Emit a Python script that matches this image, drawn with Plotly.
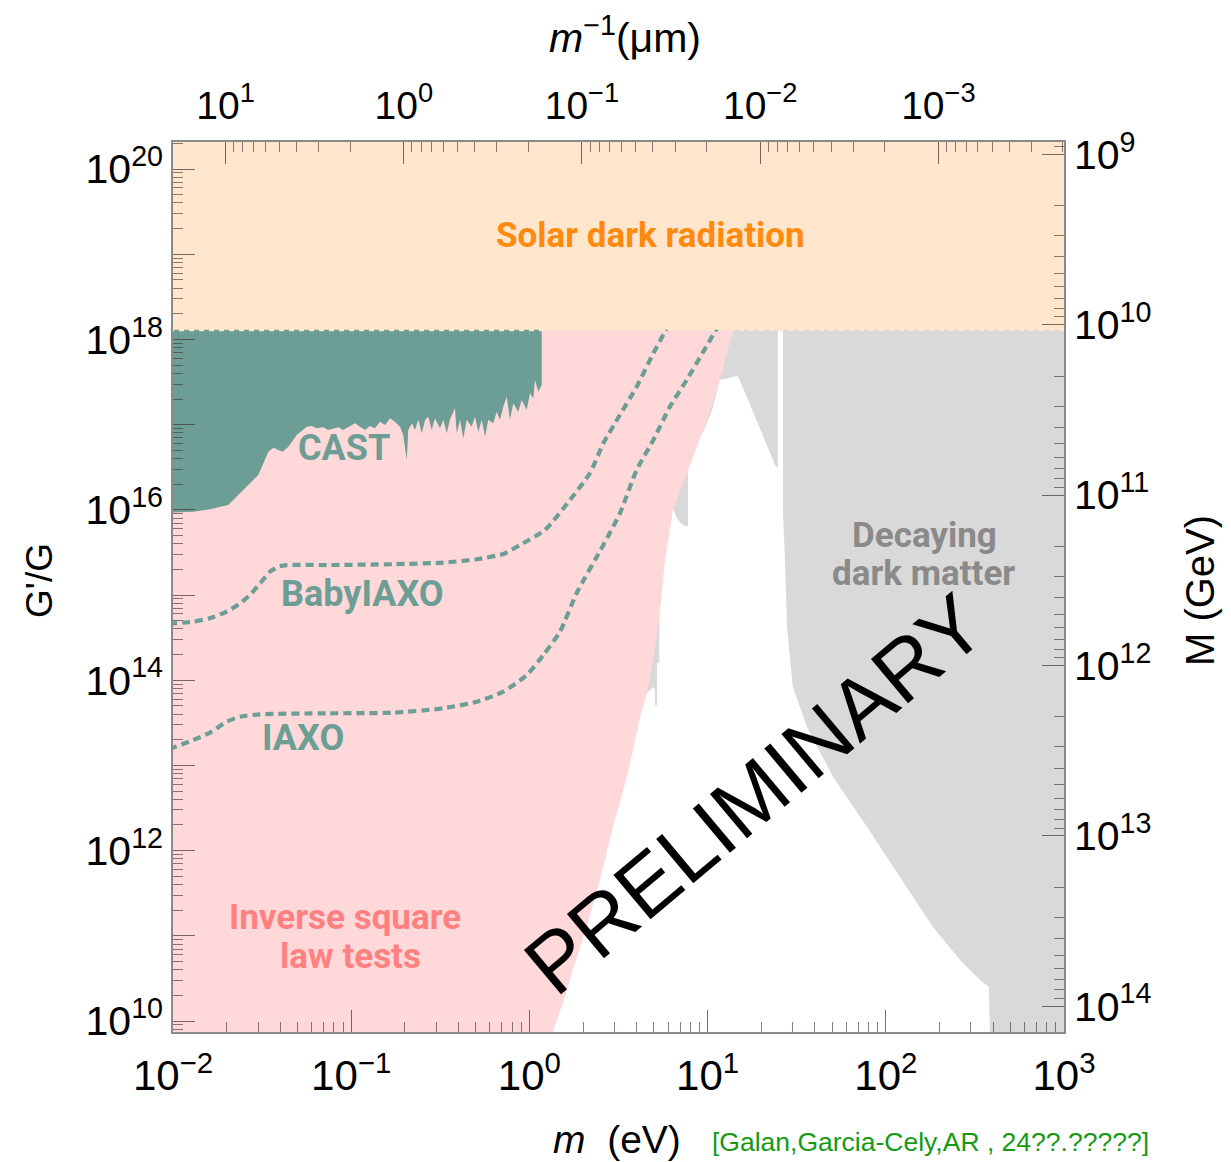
import math
import plotly.graph_objects as go

# Unit conversions for the secondary axes
HBARC_EV_UM = 0.1973      # eV * um  -> 1/m in um
MPL_GEV = 1.22e19         # G'/G = (M_pl / M)^2

M_MIN, M_MAX = 1e-2, 1e3
LOG_G_MIN, LOG_G_MAX = 9.871, 20.318

# Solar dark radiation bound on G'/G
SOLAR_G = 1.3e18

# Inverse-square-law tests: excluded region to the left of this boundary
ISL_M = [1.31, 1.36, 1.43, 1.63, 1.73, 2.10, 2.49, 2.94, 3.53, 4.18, 4.57, 4.94,
         5.41, 5.77, 6.39, 7.66, 8.73, 9.93, 11.7, 13.9, 15.5]
ISL_G = [6.0e9, 7.6e9, 1.03e10, 2.31e10, 3.66e10, 1.27e11, 4.52e11, 1.90e12,
         7.31e12, 3.71e13, 7.08e13, 1.73e14, 6.68e14, 2.58e15, 9.97e15, 2.71e16,
         5.47e16, 1.13e17, 3.35e17, 1.29e18, 3e18]

# CAST lower edge
CAST_M = [0.0095, 0.0130, 0.0161, 0.0204, 0.0248, 0.0301, 0.0343, 0.0366, 0.0390,
          0.0413, 0.0444, 0.0495, 0.0563, 0.0600, 0.0640, 0.0697, 0.0744, 0.0794,
          0.0847, 0.0903, 0.0963, 0.105, 0.112, 0.120, 0.127, 0.136, 0.145, 0.155,
          0.165, 0.176, 0.188, 0.196, 0.205, 0.209, 0.219, 0.228, 0.238, 0.249,
          0.260, 0.271, 0.283, 0.295, 0.315, 0.329, 0.344, 0.358, 0.382, 0.391,
          0.408, 0.426, 0.445, 0.474, 0.495, 0.517, 0.540, 0.564, 0.588, 0.627,
          0.655, 0.684, 0.714, 0.746, 0.778, 0.812, 0.866, 0.905, 0.966, 1.008,
          1.052, 1.075, 1.122, 1.172]
CAST_G = [9.27e15, 9.52e15, 1.02e16, 1.14e16, 1.71e16, 2.57e16, 4.82e16, 5.37e16,
          5.05e16, 4.82e16, 5.52e16, 7.57e16, 9.47e16, 9.66e16, 9.07e16, 9.31e16,
          8.66e16, 9.07e16, 9.31e16, 8.66e16, 9.31e16, 1.04e17, 9.47e16, 8.66e16,
          9.66e16, 9.07e16, 1.08e17, 9.92e16, 1.19e17, 1.08e17, 9.47e16, 7.57e16,
          3.85e16, 8.66e16, 1.04e17, 8.66e16, 1.14e17, 7.93e16, 1.14e17, 1.24e17,
          8.66e16, 1.19e17, 9.07e16, 1.14e17, 7.93e16, 1.14e17, 1.56e17, 7.93e16,
          1.14e17, 6.92e16, 1.14e17, 9.47e16, 1.24e17, 8.28e16, 1.14e17, 7.23e16,
          1.14e17, 1.04e17, 1.42e17, 1.14e17, 1.63e17, 2.13e17, 1.14e17, 1.78e17,
          1.42e17, 1.95e17, 1.49e17, 2.34e17, 2.04e17, 3.35e17, 2.44e17, 2.92e17]

# Helioscope projections
BABYIAXO_M = [0.0095, 0.0130, 0.0161, 0.0200, 0.0238, 0.0270, 0.0308, 0.0350,
              0.0390, 0.0435, 0.0729, 0.172, 0.329, 0.506, 0.714, 0.886, 1.224,
              1.69, 2.19, 2.60, 3.22, 4.00, 4.96, 5.77, 6.1]
BABYIAXO_G = [4.6e14, 4.87e14, 5.34e14, 6.38e14, 8.01e14, 1.00e15, 1.37e15,
              1.88e15, 2.15e15, 2.25e15, 2.25e15, 2.30e15, 2.40e15, 2.63e15,
              3.04e15, 3.87e15, 5.81e15, 1.31e16, 2.71e16, 6.05e16, 1.30e17,
              2.79e17, 6.89e17, 1.24e18, 1.6e18]
IAXO_M = [0.0095, 0.0130, 0.0161, 0.0200, 0.0238, 0.0308, 0.0729, 0.172, 0.329,
          0.506, 0.714, 0.966, 1.197, 1.485, 1.84, 2.60, 3.22, 4.00, 4.96, 6.15,
          7.63, 9.46, 11.0, 11.8]
IAXO_G = [1.55e13, 1.99e13, 2.42e13, 3.26e13, 3.73e13, 3.98e13, 4.09e13, 4.16e13,
          4.69e13, 5.60e13, 7.34e13, 1.15e14, 1.98e14, 3.72e14, 1.05e15, 3.87e15,
          9.12e15, 2.94e16, 6.61e16, 1.63e17, 3.35e17, 7.19e17, 1.24e18, 1.6e18]

# Decaying dark matter and related bounds (closed outlines)
DDM_M = [26.5, 26.5, 27.2, 27.9, 30.1, 36.1, 50.6, 78.5, 120, 184, 261, 338, 379,
         385, 2000, 2000]
DDM_G = [2e18, 8.7e15, 2.58e15, 4.22e14, 8.34e13, 2.83e13, 7.31e12, 1.90e12,
         4.91e11, 1.27e11, 5.20e10, 3.03e10, 2.51e10, 6.0e9, 6.0e9, 2e18]
GRAY_A_M = [8.50, 24.8, 24.8, 24.2, 14.8, 11.7, 10.6, 9.42, 8.50]
GRAY_A_G = [2e18, 2e18, 3.19e16, 3.19e16, 3.73e17, 3.35e17, 1.49e17, 7.99e16, 7.99e16]
GRAY_B_M = [6.15, 7.76, 7.76, 7.47, 7.16, 6.71, 6.39, 5.77]
GRAY_B_G = [2.94e16, 2.94e16, 6.47e15, 6.47e15, 6.82e15, 8.03e15, 1.05e16, 1.05e16]
GRAY_C_M = [4.18, 5.36, 5.36, 5.20, 5.20, 5.07, 5.07, 4.94, 4.57, 4.40, 4.18]
GRAY_C_G = [7.64e14, 7.64e14, 1.60e14, 1.60e14, 5.13e13, 5.13e13, 7.69e13, 8.34e13,
            7.08e13, 6.19e13, 6.19e13]

PEACH = "#ffe6cc"
PINK = "#ffd8d9"
TEAL = "#6c9e95"
GRAY = "#d9d9d9"
TICK_FONT = "Liberation Sans"
LABEL_FONT = "Roboto"

fig = go.Figure()


def region(xs, ys, color):
    fig.add_trace(go.Scatter(x=xs, y=ys, mode="lines", fill="toself",
                             fillcolor=color, line=dict(width=0, color=color),
                             hoverinfo="skip", showlegend=False))


for xs, ys in [(DDM_M, DDM_G), (GRAY_A_M, GRAY_A_G), (GRAY_B_M, GRAY_B_G),
               (GRAY_C_M, GRAY_C_G)]:
    region(xs, ys, GRAY)

# Inverse square law region
region([0.0095] + ISL_M + [0.0095], [ISL_G[0]] + ISL_G + [ISL_G[-1]], PINK)

# CAST
region(CAST_M + [CAST_M[-1], CAST_M[0]], CAST_G + [2e18, 2e18], TEAL)

for xs, ys in [(BABYIAXO_M, BABYIAXO_G), (IAXO_M, IAXO_G)]:
    fig.add_trace(go.Scatter(x=xs, y=ys, mode="lines",
                             line=dict(color=TEAL, width=4.2, dash="8px,5px",
                                       shape="spline", smoothing=0.6),
                             hoverinfo="skip", showlegend=False))

# Solar dark radiation band
region([0.0095, 2000, 2000, 0.0095], [SOLAR_G, SOLAR_G, 1e21, 1e21], PEACH)
fig.add_trace(go.Scatter(x=[0.0095, 2000], y=[SOLAR_G, SOLAR_G], mode="lines",
                         line=dict(color=PEACH, width=3, dash="5px,5px"),
                         hoverinfo="skip", showlegend=False))

# Invisible trace that anchors the secondary axes
fig.add_trace(go.Scatter(x=[1.0], y=[1e11], xaxis="x2", yaxis="y2", mode="markers",
                         marker=dict(opacity=0), hoverinfo="skip", showlegend=False))


def minor_vals(lo, hi):
    return [k * 10.0 ** n for n in range(lo, hi + 1) for k in range(2, 10)]


def sup_labels(exps):
    return [f"10<sup>{str(e).replace('-', chr(0x2212))}</sup>" for e in exps]


tick_common = dict(ticks="inside", ticklen=22, tickwidth=1.2,
                   tickcolor="rgba(70,60,55,0.75)", showgrid=False, zeroline=False,
                   showline=True, linecolor="#8a8a8a", linewidth=1.5)
minor_common = dict(ticks="inside", ticklen=10, tickwidth=1.1,
                    tickcolor="rgba(70,60,55,0.65)", showgrid=False)

g_major = list(range(10, 21))
g_text = [sup_labels([e])[0] if e % 2 == 0 else "" for e in g_major]

x_exps = list(range(-2, 4))
x2_exps = [1, 0, -1, -2, -3]
y2_exps = list(range(9, 15))

log_inv_left = math.log10(HBARC_EV_UM / M_MIN)
log_inv_right = math.log10(HBARC_EV_UM / M_MAX)
log_M_bot = (2 * math.log10(MPL_GEV) - LOG_G_MIN) / 2
log_M_top = (2 * math.log10(MPL_GEV) - LOG_G_MAX) / 2

fig.update_layout(
    width=1231, height=1162,
    margin=dict(l=173, r=167, t=142, b=130),
    plot_bgcolor="white", paper_bgcolor="white",
    xaxis=dict(type="log", range=[-2, 3], tickmode="array",
               tickvals=[10.0 ** e for e in x_exps], ticktext=sup_labels(x_exps),
               tickfont=dict(family=TICK_FONT, size=42, color="black"),
               ticklabelstandoff=6,
               minor=dict(tickvals=minor_vals(-3, 3), **minor_common),
               **tick_common),
    xaxis2=dict(type="log", overlaying="x", side="top",
                range=[log_inv_left, log_inv_right], tickmode="array",
                tickvals=[10.0 ** e for e in x2_exps], ticktext=sup_labels(x2_exps),
                tickfont=dict(family=TICK_FONT, size=39, color="black"),
                ticklabelstandoff=6,
                minor=dict(tickvals=minor_vals(-5, 2), **minor_common),
                **tick_common),
    yaxis=dict(type="log", range=[LOG_G_MIN, LOG_G_MAX], tickmode="array",
               tickvals=[10.0 ** e for e in g_major], ticktext=g_text,
               tickfont=dict(family=TICK_FONT, size=41, color="black"),
               ticklabelstandoff=0,
               minor=dict(tickvals=minor_vals(9, 20), **minor_common),
               **tick_common),
    yaxis2=dict(type="log", overlaying="y", side="right",
                range=[log_M_bot, log_M_top], tickmode="array",
                tickvals=[10.0 ** e for e in y2_exps], ticktext=sup_labels(y2_exps),
                tickfont=dict(family=TICK_FONT, size=41, color="black"),
                ticklabelstandoff=0,
                minor=dict(tickvals=minor_vals(8, 14), **minor_common),
                **tick_common),
)


def label(text, x, y, color, size, font=LABEL_FONT, bold=True, angle=0):
    fig.add_annotation(text=f"<b>{text}</b>" if bold else text, x=x, y=y,
                       xref="paper", yref="paper", showarrow=False,
                       xanchor="center", yanchor="middle", align="center",
                       textangle=angle,
                       font=dict(family=font, size=size, color=color))


label("Solar dark radiation", 0.5354, 0.8944, "#ff8a0d", 35)
label("CAST", 0.1919, 0.6562, TEAL, 36)
label("BabyIAXO", 0.2132, 0.4921, TEAL, 36)
label("IAXO", 0.1459, 0.3303, TEAL, 36)
label("Inverse square", 0.1925, 0.1281, "#ff8080", 35)
label("law tests", 0.1992, 0.0843, "#ff8080", 35)
label("Decaying", 0.8434, 0.5584, "#8a8a8a", 35)
label("dark matter", 0.8418, 0.5157, "#8a8a8a", 35)
label("PRELIMINARY", 0.653, 0.267, "black", 84, font=TICK_FONT, bold=False, angle=-40)

# Axis titles and citation
label("<i>m</i><sup>\u22121</sup>(\u03bcm)", 0.507, 1.1202, "black", 41,
      font=TICK_FONT, bold=False)
label("<i>m</i>  (eV)", 0.498, -0.1213, "black", 39, font=TICK_FONT, bold=False)
label("[Galan,Garcia-Cely,AR , 24??.?????]", 0.8507, -0.1236, "#149a14", 26.5,
      font=TICK_FONT, bold=False)
label("G'/G", -0.1493, 0.5079, "black", 37, font=TICK_FONT, bold=False, angle=-90)
label("M (GeV)", 1.1526, 0.4966, "black", 40, font=TICK_FONT, bold=False, angle=-90)

fig.write_html("out.html")
